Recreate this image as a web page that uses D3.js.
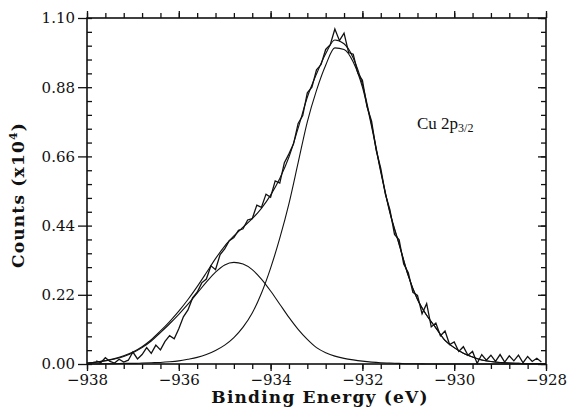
<!DOCTYPE html>
<html>
<head>
<meta charset="utf-8">
<script src="https://cdn.jsdelivr.net/npm/d3@7"></script>
<style>
  body { margin: 0; background: #fff; }
</style>
</head>
<body>
<svg id="chart" width="569" height="411"></svg>
<script>
// fitted components, every 0.2 eV
const fitEnergy = [-938.0, -937.8, -937.6, -937.4, -937.2, -937.0, -936.8, -936.6, -936.4, -936.2,
  -936.0, -935.8, -935.6, -935.4, -935.2, -935.0, -934.8, -934.6, -934.4, -934.2,
  -934.0, -933.8, -933.6, -933.4, -933.2, -933.0, -932.8, -932.6, -932.4, -932.2,
  -932.0, -931.8, -931.6, -931.4, -931.2, -931.0, -930.8, -930.6, -930.4, -930.2,
  -930.0, -929.8, -929.6, -929.4, -929.2, -929.0, -928.8, -928.6, -928.4, -928.2, -928.0];
const fitSatellite = [0.003, 0.006, 0.010, 0.016, 0.024, 0.036, 0.052, 0.073, 0.100, 0.128,
  0.158, 0.190, 0.225, 0.260, 0.292, 0.315, 0.323, 0.318, 0.300, 0.270,
  0.232, 0.190, 0.148, 0.110, 0.078, 0.052, 0.036, 0.025, 0.018, 0.013,
  0.009, 0.006, 0.004, 0.003, 0.002, 0.001, 0.001, 0.000, 0.000, 0.000,
  0.000, 0.000, 0.000, 0.000, 0.000, 0.000, 0.000, 0.000, 0.000, 0.000, 0.000];
const fitMain = [0.000, 0.000, 0.001, 0.001, 0.002, 0.002, 0.003, 0.004, 0.005, 0.007,
  0.010, 0.015, 0.021, 0.030, 0.043, 0.060, 0.084, 0.117, 0.162, 0.225,
  0.305, 0.400, 0.510, 0.640, 0.770, 0.870, 0.950, 1.005, 1.000, 0.960,
  0.880, 0.755, 0.610, 0.480, 0.380, 0.280, 0.205, 0.155, 0.115, 0.075,
  0.052, 0.034, 0.022, 0.013, 0.008, 0.005, 0.003, 0.002, 0.001, 0.001, 0.000];
const fitEnvelope = [0.003, 0.006, 0.011, 0.017, 0.026, 0.038, 0.055, 0.077, 0.105, 0.135,
  0.168, 0.205, 0.246, 0.290, 0.335, 0.375, 0.407, 0.435, 0.462, 0.495,
  0.537, 0.590, 0.658, 0.750, 0.848, 0.922, 0.986, 1.030, 1.018, 0.973,
  0.889, 0.761, 0.614, 0.483, 0.382, 0.281, 0.206, 0.155, 0.115, 0.075,
  0.052, 0.034, 0.022, 0.013, 0.008, 0.005, 0.003, 0.002, 0.001, 0.001, 0.000];

// measured spectrum, every 0.1 eV
const dataEnergy = [-937.8, -937.7, -937.6, -937.5, -937.4, -937.3, -937.2, -937.1, -937.0, -936.9,
  -936.8, -936.7, -936.6, -936.5, -936.4, -936.3, -936.2, -936.1, -936.0, -935.9,
  -935.8, -935.7, -935.6, -935.5, -935.4, -935.3, -935.2, -935.1, -935.0, -934.9,
  -934.8, -934.7, -934.6, -934.5, -934.4, -934.3, -934.2, -934.1, -934.0, -933.9,
  -933.8, -933.7, -933.6, -933.5, -933.4, -933.3, -933.2, -933.1, -933.0, -932.9,
  -932.8, -932.7, -932.6, -932.5, -932.4, -932.3, -932.2, -932.1, -932.0, -931.9,
  -931.8, -931.7, -931.6, -931.5, -931.4, -931.3, -931.2, -931.1, -931.0, -930.9,
  -930.8, -930.7, -930.6, -930.5, -930.4, -930.3, -930.2, -930.1, -930.0, -929.9,
  -929.8, -929.7, -929.6, -929.5, -929.4, -929.3, -929.2, -929.1, -929.0, -928.9,
  -928.8, -928.7, -928.6, -928.5, -928.4, -928.3, -928.2, -928.1];
const dataCounts = [0.010, 0.004, 0.020, 0.008, 0.003, 0.015, 0.006, 0.012, 0.038, 0.016,
  0.030, 0.052, 0.034, 0.060, 0.045, 0.072, 0.090, 0.080, 0.112, 0.150,
  0.172, 0.210, 0.228, 0.258, 0.270, 0.312, 0.300, 0.348, 0.366, 0.392,
  0.402, 0.425, 0.430, 0.458, 0.462, 0.505, 0.498, 0.540, 0.530, 0.582,
  0.575, 0.640, 0.668, 0.700, 0.765, 0.790, 0.862, 0.880, 0.935, 0.952,
  1.000, 1.015, 1.065, 1.028, 1.052, 0.990, 0.985, 0.925, 0.902, 0.818,
  0.772, 0.680, 0.622, 0.540, 0.490, 0.412, 0.395, 0.318, 0.290, 0.228,
  0.218, 0.160, 0.192, 0.118, 0.130, 0.090, 0.105, 0.062, 0.070, 0.040,
  0.055, 0.028, 0.040, 0.002, 0.030, 0.012, 0.028, 0.008, 0.030, 0.006,
  0.026, 0.010, 0.028, 0.004, 0.024, 0.008, 0.018, 0.006];

const xTicks = [-938, -936, -934, -932, -930, -928];
const yTicks = [0.00, 0.22, 0.44, 0.66, 0.88, 1.10];

const serif = "'DejaVu Serif', serif";
const ink = '#111';

const svg = d3.select('#chart');

const x = d3.scaleLinear().domain([-938, -928]).range([87, 546]);
const y = d3.scaleLinear().domain([0, 1.10]).range([364, 18]);

const xMinor = d3.range(-938, -927.99, 0.4);
const yMinor = d3.range(0, 1.1001, 0.044);

function tidy(g) {
  g.select('.domain').remove();
  g.selectAll('line').attr('stroke', ink).attr('stroke-width', 1.3);
  g.selectAll('text').attr('fill', ink);
  g.attr('font-family', serif).attr('font-size', 15);
}

// bottom
svg.append('g').attr('transform', 'translate(0,364)')
  .call(d3.axisBottom(x).tickValues(xMinor).tickSize(5).tickFormat(''))
  .call(tidy);
svg.append('g').attr('transform', 'translate(0,364)')
  .call(d3.axisBottom(x).tickValues(xTicks).tickSize(7).tickPadding(3).tickFormat(d3.format('d')))
  .call(tidy);
// top
svg.append('g').attr('transform', 'translate(0,18)')
  .call(d3.axisTop(x).tickValues(xMinor).tickSize(5).tickFormat(''))
  .call(tidy);
svg.append('g').attr('transform', 'translate(0,18)')
  .call(d3.axisTop(x).tickValues(xTicks).tickSize(7).tickFormat(''))
  .call(tidy);
// left
svg.append('g').attr('transform', 'translate(87,0)')
  .call(d3.axisRight(y).tickValues(yMinor).tickSize(5).tickFormat(''))
  .call(tidy);
svg.append('g').attr('transform', 'translate(87,0)')
  .call(d3.axisLeft(y).tickValues(yTicks).tickSize(9).tickPadding(3).tickFormat(d3.format('.2f')))
  .call(tidy);
// right
svg.append('g').attr('transform', 'translate(546,0)')
  .call(d3.axisLeft(y).tickValues(yMinor).tickSize(5).tickFormat(''))
  .call(tidy);
svg.append('g').attr('transform', 'translate(546,0)')
  .call(d3.axisLeft(y).tickValues(yTicks).tickSize(8).tickFormat(''))
  .call(tidy);

// frame
svg.append('rect')
  .attr('x', x.range()[0]).attr('y', y.range()[1])
  .attr('width', x.range()[1] - x.range()[0])
  .attr('height', y.range()[0] - y.range()[1])
  .attr('fill', 'none').attr('stroke', ink).attr('stroke-width', 1.6);

// curves
const fitLine = (vals) => d3.line()
  .x((d, i) => x(fitEnergy[i]))
  .y(d => y(d))
  .curve(d3.curveMonotoneX)(vals);

[fitSatellite, fitMain, fitEnvelope].forEach(vals => {
  svg.append('path')
    .attr('d', fitLine(vals))
    .attr('fill', 'none').attr('stroke', ink).attr('stroke-width', 1.1);
});

svg.append('path')
  .datum(dataCounts)
  .attr('d', d3.line().x((d, i) => x(dataEnergy[i])).y(d => y(d)))
  .attr('fill', 'none').attr('stroke', ink).attr('stroke-width', 1.3)
  .attr('stroke-linejoin', 'miter');

// titles
svg.append('text')
  .attr('x', 320).attr('y', 403)
  .attr('text-anchor', 'middle')
  .attr('font-family', serif).attr('font-size', 17).attr('font-weight', 'bold')
  .attr('letter-spacing', 1.2).attr('fill', ink)
  .text('Binding Energy (eV)');

const yt = svg.append('text')
  .attr('transform', 'translate(24,195) rotate(-90)')
  .attr('text-anchor', 'middle')
  .attr('font-family', serif).attr('font-size', 17).attr('font-weight', 'bold')
  .attr('letter-spacing', 1.2).attr('fill', ink);
yt.append('tspan').text('Counts (x10');
yt.append('tspan').attr('font-size', 11).attr('dy', -7).text('4');
yt.append('tspan').attr('dy', 7).text(')');

const note = svg.append('text')
  .attr('x', 417).attr('y', 129)
  .attr('font-family', "'Liberation Serif', serif").attr('font-size', 17).attr('fill', ink);
note.append('tspan').text('Cu 2p');
note.append('tspan').attr('font-size', 12).attr('dy', 3).text('3/2');
</script>
</body>
</html>
